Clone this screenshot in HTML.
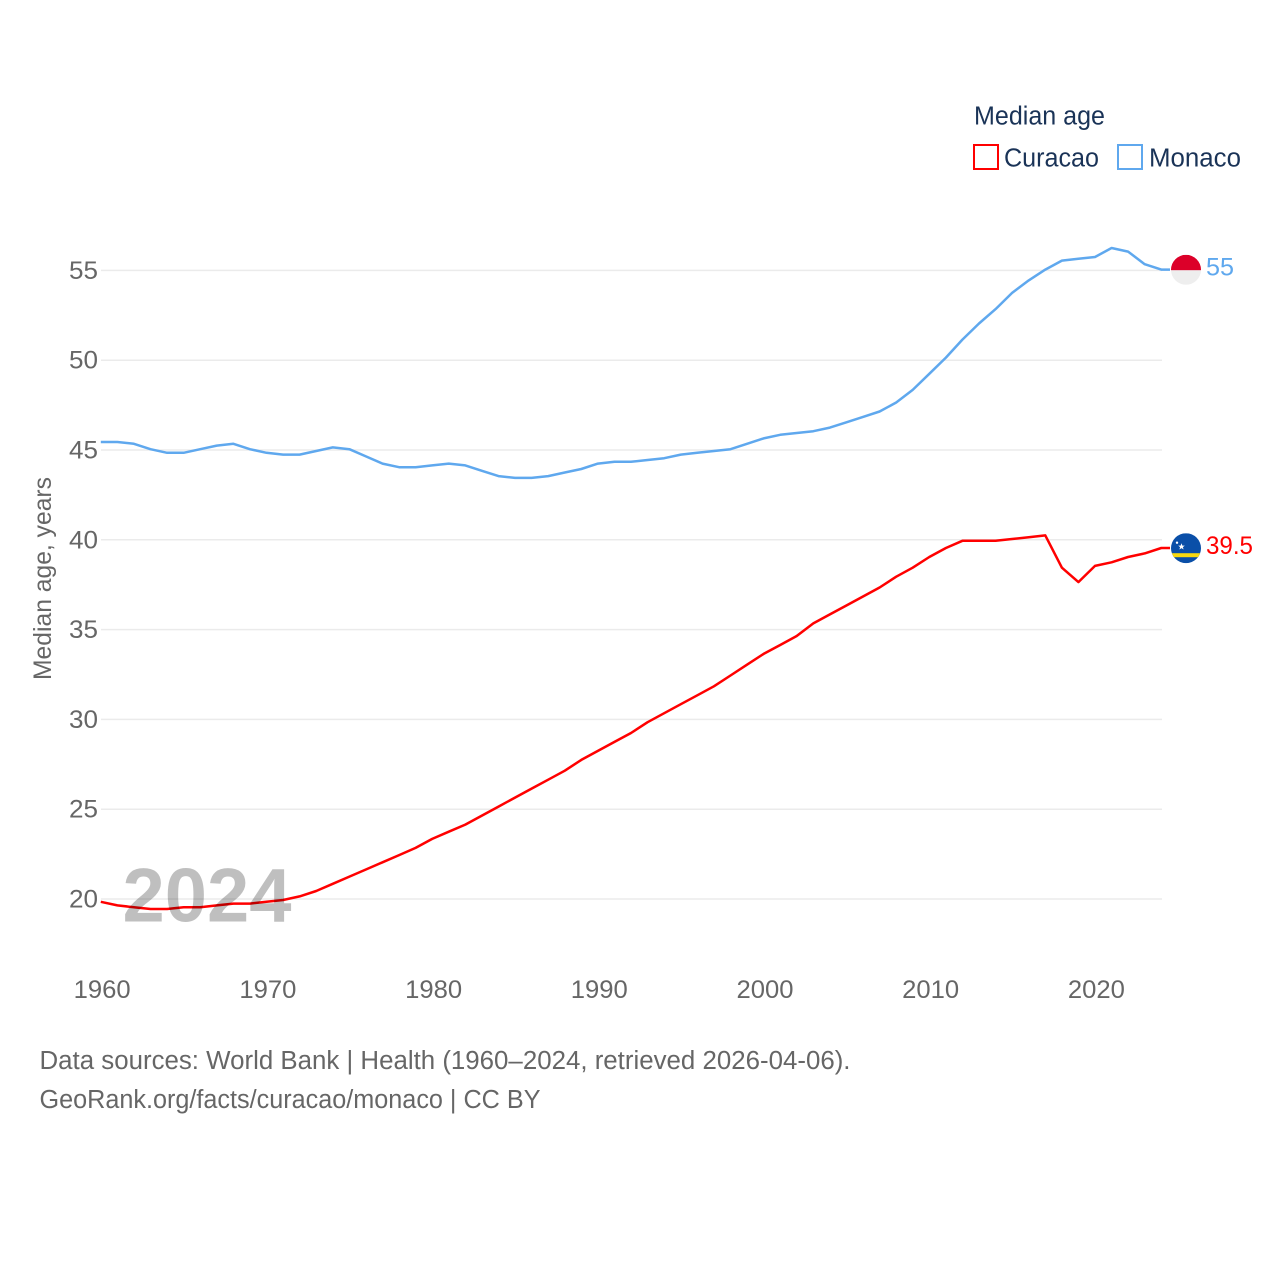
<!DOCTYPE html>
<html lang="en">
<head>
<meta charset="utf-8">
<title>Median age: Curacao and Monaco</title>
<style>
html,body{margin:0;padding:0;background:#fff}
svg{display:block}
text{font-family:"Liberation Sans",sans-serif}
</style>
</head>
<body>
<svg id="chart" xmlns="http://www.w3.org/2000/svg" width="1280" height="1280" viewBox="0 0 1280 1280">
  <rect width="1280" height="1280" fill="#fff"/>
  <g id="grid"></g>
  <g id="yticks"></g>
  <g id="xticks"></g>
  <text transform="translate(51 680) rotate(-90)" font-size="25" fill="#666" textLength="203" lengthAdjust="spacingAndGlyphs">Median age, years</text>
  <g id="series"></g>

  <g id="flag-monaco">
    <clipPath id="clip-mc"><circle cx="0" cy="0" r="15"/></clipPath>
    <g clip-path="url(#clip-mc)">
      <rect x="-15" y="-15" width="30" height="15.5" fill="#dc0029"/>
      <rect x="-15" y="0.5" width="30" height="14.5" fill="#eeeeee"/>
    </g>
  </g>
  <g id="flag-curacao">
    <clipPath id="clip-cw"><circle cx="0" cy="0" r="15"/></clipPath>
    <g clip-path="url(#clip-cw)">
      <rect x="-15" y="-15" width="30" height="30" fill="#0a4fa8"/>
      <rect x="-15" y="5" width="30" height="4" fill="#f9d90f"/>
      <polygon points="-4.5,-5 -3.6,-2.6 -1.2,-2.6 -3.1,-1.1 -2.4,1.3 -4.5,-0.1 -6.6,1.3 -5.9,-1.1 -7.8,-2.6 -5.4,-2.6" fill="#fff"/>
      <circle cx="-9" cy="-5.5" r="1.2" fill="#fff"/>
    </g>
  </g>
  <g id="end-labels"></g>

  <text x="122.5" y="921.5" font-size="76" font-weight="700" fill="#000" fill-opacity="0.25" textLength="169" lengthAdjust="spacingAndGlyphs">2024</text>

  <g>
    <text x="974" y="124.5" font-size="25.5" fill="#1a3357" textLength="131" lengthAdjust="spacingAndGlyphs">Median age</text>
    <g>
      <rect x="974" y="145" width="24" height="24" fill="#fff" stroke="#ff0000" stroke-width="2"/>
      <text x="1004" y="166.5" font-size="25.5" fill="#1a3357" textLength="95" lengthAdjust="spacingAndGlyphs">Curacao</text>
    </g>
    <g>
      <rect x="1118" y="145" width="24" height="24" fill="#fff" stroke="#5fa8ee" stroke-width="2"/>
      <text x="1149" y="166.5" font-size="25.5" fill="#1a3357" textLength="92" lengthAdjust="spacingAndGlyphs">Monaco</text>
    </g>
  </g>

  <text x="39.5" y="1069" font-size="25.5" fill="#666" textLength="811" lengthAdjust="spacingAndGlyphs">Data sources: World Bank | Health (1960–2024, retrieved 2026-04-06).</text>
  <text x="39.5" y="1108" font-size="25.5" fill="#666" textLength="501" lengthAdjust="spacingAndGlyphs">GeoRank.org/facts/curacao/monaco | CC BY</text>
</svg>

<script>
const startYear = 1960;
const xTickLabels = [1960, 1970, 1980, 1990, 2000, 2010, 2020];
const yTickLabels = [20, 25, 30, 35, 40, 45, 50, 55];
const curacaoValues = [19.8,19.6,19.5,19.4,19.4,19.5,19.5,19.6,19.7,19.7,19.8,19.9,20.1,20.4,20.8,21.2,21.6,22.0,22.4,22.8,23.3,23.7,24.1,24.6,25.1,25.6,26.1,26.6,27.1,27.7,28.2,28.7,29.2,29.8,30.3,30.8,31.3,31.8,32.4,33.0,33.6,34.1,34.6,35.3,35.8,36.3,36.8,37.3,37.9,38.4,39.0,39.5,39.9,39.9,39.9,40.0,40.1,40.2,38.4,37.6,38.5,38.7,39.0,39.2,39.5];
const monacoValues = [45.4,45.4,45.3,45.0,44.8,44.8,45.0,45.2,45.3,45.0,44.8,44.7,44.7,44.9,45.1,45.0,44.6,44.2,44.0,44.0,44.1,44.2,44.1,43.8,43.5,43.4,43.4,43.5,43.7,43.9,44.2,44.3,44.3,44.4,44.5,44.7,44.8,44.9,45.0,45.3,45.6,45.8,45.9,46.0,46.2,46.5,46.8,47.1,47.6,48.3,49.2,50.1,51.1,52.0,52.8,53.7,54.4,55.0,55.5,55.6,55.7,56.2,56.0,55.3,55.0];

const SVG_NS = 'http://www.w3.org/2000/svg';
const xScale = function (year) { return 100.8 + (year - 1960) * 16.57; };
const yScale = function (v) { return 899 - (v - 20) * 17.96; };
const PLOT_RIGHT = 1162;
const LINE_Y_OFFSET = -0.8;

function make(tag, attrs, parent) {
  const el = document.createElementNS(SVG_NS, tag);
  Object.keys(attrs).forEach(function (k) { el.setAttribute(k, attrs[k]); });
  parent.appendChild(el);
  return el;
}

const gridG = document.getElementById('grid');
const yG = document.getElementById('yticks');
const xG = document.getElementById('xticks');
const seriesG = document.getElementById('series');
const endG = document.getElementById('end-labels');

yTickLabels.forEach(function (v) {
  const line = make('line', { x1: 101, x2: PLOT_RIGHT, y1: yScale(v), y2: yScale(v), stroke: '#ebebeb', 'stroke-width': 1.5 }, gridG);
  
  
  const t = make('text', { x: 98, y: yScale(v) + 8.5, 'font-size': 25, fill: '#666', 'text-anchor': 'end', textLength: 29, lengthAdjust: 'spacingAndGlyphs' }, yG);
  
  
  t.textContent = v;
});

xTickLabels.forEach(function (yr) {
  const t = make('text', { x: xScale(yr) + 1.4, y: 998, 'font-size': 25, fill: '#666', 'text-anchor': 'middle', textLength: 57, lengthAdjust: 'spacingAndGlyphs' }, xG);
  
  
  t.textContent = yr;
});

function drawSeries(values, color, name, flagId, labelWidth) {
  const pts = values.map(function (v, i) {
    return xScale(startYear + i).toFixed(1) + ',' + (yScale(v) + LINE_Y_OFFSET).toFixed(1);
  });
  const lastValue = values[values.length - 1];
  const lastY = yScale(lastValue) + LINE_Y_OFFSET;
  pts.push('1170,' + lastY.toFixed(1));
  const line = make('polyline', { points: pts.join(' '), fill: 'none', stroke: color, 'stroke-width': 2.5, 'stroke-linejoin': 'round' }, seriesG);
  
  
  document.getElementById(flagId).setAttribute('transform', 'translate(1186 ' + (lastY + 0.2).toFixed(1) + ')');
  const label = make('text', { x: 1206, y: lastY + 5.8, 'font-size': 25, fill: color, textLength: labelWidth, lengthAdjust: 'spacingAndGlyphs' }, endG);
  
  
  label.textContent = lastValue;
}

drawSeries(curacaoValues, '#ff0000', 'curacao', 'flag-curacao', 47);
drawSeries(monacoValues, '#5fa8ee', 'monaco', 'flag-monaco', 28);
</script>
</body>
</html>
